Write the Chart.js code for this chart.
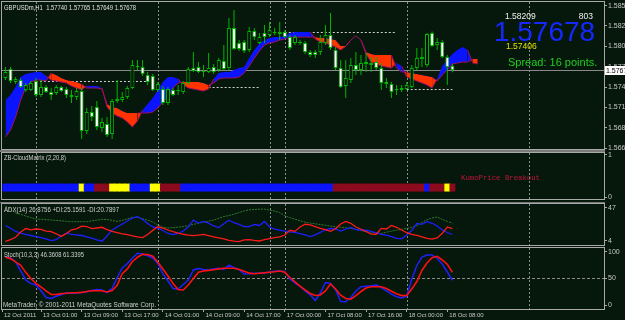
<!DOCTYPE html>
<html><head><meta charset="utf-8">
<script src="https://cdn.jsdelivr.net/npm/chart.js@4.4.0/dist/chart.umd.min.js"></script>
<style>
html,body{margin:0;padding:0;background:#06180c;overflow:hidden;width:625px;height:320px;}
canvas{position:absolute;left:0;}
</style></head><body>
<canvas id="cMain" width="625" height="150" style="top:0px"></canvas>
<canvas id="cCM" width="625" height="52" style="top:150px"></canvas>
<canvas id="cADX" width="625" height="45" style="top:202px"></canvas>
<canvas id="cST" width="625" height="73" style="top:247px"></canvas>
<script>
// ---------------- DATA ----------------
const symbolName = 'GBPUSDm,H1';
const openP = [1.57572,1.57695,1.57517,1.57544,1.57408,1.57408,1.57531,1.57339,1.57449,1.57380,
1.57367,1.57449,1.57421,1.57339,1.57312,1.57394,1.56847,1.57107,1.57175,1.56888,
1.56943,1.56806,1.57285,1.57271,1.57312,1.57435,1.57736,1.57722,1.57613,1.57599,
1.57408,1.57421,1.57230,1.57408,1.57408,1.57380,1.57503,1.57708,1.57722,1.57667,
1.57654,1.57722,1.57681,1.57804,1.57708,1.58255,1.58050,1.58064,1.57954,1.58214,
1.58050,1.58187,1.58159,1.58200,1.58200,1.58200,1.58132,1.58050,1.58064,1.58050,
1.57927,1.57927,1.57927,1.58050,1.58159,1.57954,1.57708,1.57462,1.57544,1.57749,
1.57681,1.57790,1.57777,1.57790,1.57708,1.57517,1.57490,1.57421,1.57435,1.57421,
1.57449,1.57708,1.57831,1.57749,1.58187,1.58023,1.58064,1.57859,1.57740];
const highP = [1.57722,1.57722,1.57585,1.57572,1.57503,1.57531,1.57572,1.57544,1.57476,1.57435,
1.57476,1.57462,1.57449,1.57408,1.57435,1.57435,1.57162,1.57189,1.57257,1.57025,
1.57039,1.57285,1.57544,1.57380,1.57462,1.57818,1.57818,1.57818,1.57654,1.57626,
1.57517,1.57462,1.57449,1.57435,1.57476,1.57531,1.57722,1.57927,1.57790,1.57749,
1.57913,1.57763,1.57845,1.58023,1.58392,1.58501,1.58091,1.58091,1.58269,1.58255,
1.58187,1.58296,1.58337,1.58255,1.58337,1.58228,1.58159,1.58159,1.58091,1.58077,
1.57954,1.57954,1.58159,1.58296,1.58460,1.57995,1.57818,1.57818,1.57845,1.57927,
1.57886,1.57913,1.57859,1.57859,1.57777,1.57572,1.57517,1.57476,1.57476,1.57517,
1.57749,1.57982,1.57982,1.58187,1.58209,1.58118,1.58091,1.57886,1.57765];
const lowP = [1.57544,1.57503,1.57490,1.57435,1.57380,1.57394,1.57312,1.57312,1.57367,1.57271,
1.57339,1.57380,1.57298,1.57230,1.57271,1.56738,1.56806,1.56984,1.56861,1.56833,
1.56765,1.56738,1.57230,1.57244,1.57285,1.57421,1.57681,1.57599,1.57476,1.57394,
1.57380,1.57203,1.57203,1.57326,1.57339,1.57353,1.57476,1.57654,1.57640,1.57585,
1.57640,1.57626,1.57654,1.57681,1.57681,1.57954,1.57941,1.57913,1.57927,1.58091,
1.58036,1.58050,1.58132,1.58159,1.58091,1.58118,1.57954,1.58023,1.58023,1.57900,
1.57859,1.57845,1.57886,1.58023,1.57954,1.57681,1.57435,1.57298,1.57503,1.57613,
1.57613,1.57654,1.57654,1.57681,1.57408,1.57435,1.57298,1.57339,1.57380,1.57406,
1.57435,1.57681,1.57722,1.57722,1.57995,1.57954,1.57845,1.57476,1.57649];
const closeP = [1.57654,1.57531,1.57558,1.57449,1.57476,1.57503,1.57339,1.57449,1.57380,1.57339,
1.57449,1.57394,1.57339,1.57312,1.57394,1.56847,1.57107,1.57039,1.56902,1.56970,
1.56792,1.57257,1.57257,1.57312,1.57435,1.57749,1.57722,1.57626,1.57517,1.57408,
1.57490,1.57230,1.57421,1.57339,1.57394,1.57503,1.57695,1.57667,1.57654,1.57654,
1.57708,1.57654,1.57818,1.57695,1.58255,1.57968,1.57968,1.57941,1.58214,1.58132,
1.58132,1.58132,1.58228,1.58187,1.58173,1.58132,1.57982,1.58132,1.58050,1.57927,
1.57886,1.57886,1.58064,1.58159,1.57982,1.57708,1.57449,1.57572,1.57749,1.57681,
1.57777,1.57763,1.57749,1.57708,1.57503,1.57490,1.57380,1.57408,1.57408,1.57476,
1.57708,1.57845,1.57859,1.58173,1.58009,1.58064,1.57859,1.57722,1.57678];
// Kumo spans (extend 5 bars into the future)
const spanA = [1.57271,1.57339,1.57449,1.57585,1.57626,1.57640,1.57654,1.57654,1.57599,1.57544,
1.57531,1.57517,1.57503,1.57462,1.57435,1.57408,1.57462,1.57462,1.57462,1.57435,
1.57175,1.57093,1.57052,1.57025,1.56970,1.56902,1.56984,1.57134,1.57216,1.57298,
1.57408,1.57517,1.57585,1.57585,1.57558,1.57476,1.57435,1.57421,1.57408,1.57394,
1.57421,1.57558,1.57640,1.57654,1.57654,1.57681,1.57708,1.57722,1.57845,1.57954,
1.58036,1.58091,1.58118,1.58132,1.58132,1.58146,1.58187,1.58200,1.58200,1.58200,
1.58200,1.58105,1.58064,1.58050,1.58023,1.57995,1.57954,1.58005,1.58091,1.58146,
1.58091,1.57900,1.57790,1.57763,1.57736,1.57722,1.57708,1.57777,1.57736,1.57585,
1.57558,1.57531,1.57503,1.57476,1.57435,1.57558,1.57736,1.57818,1.57900,1.57954,
1.57995,1.57954,1.57777,1.57763];
const spanB = [1.56765,1.56861,1.57039,1.57271,1.57449,1.57517,1.57544,1.57544,1.57531,1.57640,
1.57613,1.57572,1.57544,1.57531,1.57517,1.57490,1.57435,1.57435,1.57435,1.57421,
1.57216,1.57175,1.57162,1.57121,1.57093,1.57093,1.57093,1.57093,1.57093,1.57107,
1.57162,1.57244,1.57312,1.57435,1.57503,1.57517,1.57517,1.57517,1.57517,1.57503,
1.57476,1.57503,1.57558,1.57572,1.57572,1.57572,1.57585,1.57640,1.57736,1.57845,
1.57941,1.58023,1.58050,1.58064,1.58091,1.58105,1.58132,1.58132,1.58132,1.58132,
1.58132,1.58132,1.58118,1.58118,1.58105,1.58091,1.58009,1.58009,1.58091,1.58146,
1.58091,1.57927,1.57900,1.57886,1.57886,1.57886,1.57886,1.57708,1.57654,1.57654,
1.57640,1.57626,1.57613,1.57599,1.57585,1.57531,1.57613,1.57681,1.57763,1.57777,
1.57790,1.57790,1.57831,1.57831];
// ZB-CloudMatrix state per bar: 0 = blue, 1 = yellow, 2 = dark red
const stripState = [0,0,0,0,0,0,0,0,0,0,0,0,0,0,0,1,0,0,2,2,2,1,1,1,1,0,0,0,0,1,1,2,2,2,2,
0,0,0,0,0,0,0,0,0,0,0,0,0,0,0,0,0,0,0,0,0,0,0,0,0,0,0,0,0,0,
2,2,2,2,2,2,2,2,2,2,2,2,2,2,2,2,2,2,0,2,2,2,1,2];
const adxMain = [49.2,45.3,40.2,38.5,36.3,34.2,32.4,32.0,31.6,31.1,30.6,30.1,29.4,28.9,28.9,28.9,28.9,30.0,30.9,31.9,
31.8,30.6,29.4,30.6,32.5,34.6,34.6,32.8,30.9,28.7,24.7,21.8,20.7,21.3,22.0,22.5,24.0,25.4,27.0,28.4,
29.8,30.9,33.4,35.5,36.8,38.7,40.8,42.9,44.3,44.7,45.1,45.1,43.9,42.7,40.7,36.7,34.2,32.2,30.1,28.3,
27.2,26.2,25.2,24.3,23.2,22.3,21.7,21.0,20.3,18.9,17.4,16.0,15.4,14.6,13.9,15.4,16.7,18.0,19.0,20.3,
21.6,23.9,28.0,31.4,33.7,35.0,31.9,29.3,27.2];
const plusDI = [24.0,20.4,16.3,14.3,12.4,11.1,9.6,8.3,6.8,4.6,5.9,10.5,14.1,12.5,12.0,11.1,9.4,7.6,5.5,3.7,
10.5,18.2,22.1,26.0,29.8,33.7,35.4,31.8,26.6,22.1,20.8,17.6,13.7,12.3,13.7,16.9,22.1,31.1,27.2,29.2,
27.0,23.4,21.4,26.2,30.9,27.6,25.4,22.6,22.7,25.3,24.0,29.2,22.1,19.4,18.1,16.7,15.8,15.2,13.6,11.9,
9.8,12.0,15.2,18.5,20.1,19.6,16.9,19.5,21.4,18.6,18.2,17.9,16.4,14.5,12.5,11.5,9.7,7.5,6.8,11.7,
17.6,26.7,25.6,28.9,26.9,23.4,18.2,15.0,12.4];
const minusDI = [3.6,5.9,8.8,15.6,20.1,18.5,19.5,18.9,16.8,16.1,13.3,9.9,13.7,18.5,19.6,23.1,22.7,19.9,20.8,21.7,
18.7,16.3,14.7,13.2,12.3,10.5,9.3,8.4,12.4,17.7,22.3,20.5,18.2,16.1,14.3,12.7,11.7,11.0,11.7,12.5,
11.0,9.3,8.0,6.6,4.9,3.9,3.1,5.4,5.8,4.8,4.0,5.8,7.1,8.3,9.2,11.7,17.8,16.4,22.1,25.6,
24.7,22.5,20.4,18.6,16.5,19.8,26.0,29.3,26.9,22.1,19.2,16.3,13.0,12.7,20.3,19.5,24.0,21.7,18.2,14.7,
12.7,11.2,9.4,7.5,6.5,7.9,13.9,22.1,20.1];
const stochMain = [90.2,88.2,81.0,63.8,46.9,40.1,37.5,26.6,14.1,12.2,16.5,19.1,22.9,21.9,22.5,23.3,24.8,27.0,29.1,28.1,
23.1,31.5,51.6,69.4,77.9,88.2,97.0,95.7,92.3,88.2,77.9,58.2,45.0,31.0,30.0,38.5,46.9,65.7,68.5,66.6,
66.0,67.5,68.7,66.6,74.7,70.0,66.6,58.2,58.5,59.5,59.5,60.0,61.9,63.4,64.2,62.5,48.8,41.3,34.7,26.3,
19.1,8.4,22.5,42.2,40.3,28.7,6.6,6.2,14.1,26.3,34.3,35.3,36.0,37.5,32.8,26.6,20.3,15.4,13.1,16.5,
48.8,74.1,90.0,93.8,93.8,87.2,76.9,61.9,46.4];
const stochSignal = [89.5,87.0,81.0,74.5,61.2,49.7,40.5,33.8,26.3,19.9,19.7,21.4,22.1,23.1,23.1,23.6,25.3,26.8,26.8,26.8,
24.4,27.2,37.0,58.7,67.7,81.6,89.5,95.1,94.6,91.4,80.3,67.5,54.4,40.3,29.1,28.1,37.5,49.7,61.5,63.8,
64.9,66.2,67.7,68.8,68.8,68.8,66.6,63.4,59.7,58.7,59.5,60.4,61.5,62.5,63.8,61.3,51.6,43.5,35.6,28.5,
21.6,17.8,18.8,26.3,39.4,30.0,18.4,12.2,10.9,17.4,25.3,31.9,34.3,34.3,34.3,30.8,25.7,21.0,17.6,17.8,
30.0,44.1,64.7,78.8,88.7,91.4,84.4,76.4,61.3];
const priceTicks = [1.58560,1.58285,1.58005,1.57725,1.57445,1.57170,1.56890,1.56610];
const cmTicks = [0,1];
const adxTicks = [4,47];
const stochTicks = [0,50,100];
const stochLevels = [50];
const firstDateLabel = '12 Oct 2011';
const xTickIdx = [7,15,23,31,39,47,55,63,71,79,87];
const xTickLabels = ['13 Oct 01:00','13 Oct 09:00','13 Oct 17:00','14 Oct 01:00','14 Oct 09:00','14 Oct 17:00',
  '17 Oct 00:00','17 Oct 08:00','17 Oct 16:00','18 Oct 00:00','18 Oct 08:00'];
const separatorIdx = [6,30,52,55,79,103];
const dayOpenStart = [6,40,55,79];
const dayOpenEnd = [28,50,77,88];
const dayOpenPrice = [1.57531,1.57453,1.58200,1.57421];
const counterText = '803';
const spreadText = 'Spread: 16 points.';
const cmTitle = 'ZB-CloudMatrix (2,20,8)';
const cmSignal = 'KumoPrice Breakout';
const adxTitle = 'ADX(14) 26.8756 +DI:25.1591 -DI:20.7897';
const stochTitle = 'Stoch(10,3,3) 46.3608 61.3395';
const copyright = 'MetaTrader, \u00a9 2001-2011 MetaQuotes Software Corp.';

// ---------------- STYLE ----------------
const BG = '#06180c';
const FRAME = '#a8a8a8';
const AXIS = '#c8c8c8';
const SEP = '#8c8c8c';
const FONT = '"Liberation Sans", Arial, sans-serif';
const MONO = '"Liberation Mono", "DejaVu Sans Mono", monospace';
const CLOUD_BLUE = '#0a14ff';
const CLOUD_RED = '#ff3300';
const EDGE = '#9a1060';
const CANDLE = '#00b400';
const STRIP_COLORS = ['#0a14ff','#ffff00','#8b0a1e'];
const X_MIN = -0.68, X_MAX = 117.85;
const last = closeP.length - 1;

function txt(ctx, s, x, y, font, color, maxW, align) {
  ctx.save();
  ctx.font = font; ctx.fillStyle = color; ctx.textBaseline = 'alphabetic';
  ctx.textAlign = align || 'left';
  if (maxW) ctx.fillText(s, x, y, maxW); else ctx.fillText(s, x, y);
  ctx.restore();
}

function panelPlugin(extra) {
  return {
    id: 'panel',
    beforeDraw(chart) {
      const {ctx, width, height, chartArea: a} = chart;
      ctx.save();
      ctx.fillStyle = BG; ctx.fillRect(0, 0, width, height);
      if (extra.bandTop) { ctx.fillStyle = '#7a7a7a'; ctx.fillRect(0, 0, a.right + 1, a.top - 1); }
      ctx.restore();
    },
    beforeDatasetsDraw(chart) {
      const {ctx, chartArea: a, scales: {x}} = chart;
      ctx.save();
      ctx.beginPath(); ctx.rect(a.left, a.top, a.right - a.left, a.bottom - a.top); ctx.clip();
      ctx.strokeStyle = SEP; ctx.lineWidth = 1; ctx.setLineDash([2, 2]);
      separatorIdx.forEach(v => {
        const px = Math.round(x.getPixelForValue(v)) + 0.5;
        ctx.beginPath(); ctx.moveTo(px, a.top); ctx.lineTo(px, a.bottom); ctx.stroke();
      });
      ctx.restore();
      if (extra.behind) extra.behind(chart);
    },
    afterDraw(chart) {
      const {ctx, chartArea: a} = chart;
      ctx.save();
      ctx.strokeStyle = FRAME; ctx.lineWidth = 1;
      ctx.strokeRect(a.left - 0.5, a.top - 0.5, a.right - a.left + 1, a.bottom - a.top + 1);
      ctx.restore();
      if (extra.front) extra.front(chart);
    }
  };
}

function yAxis(min, max, vals, fmt) {
  return {
    type: 'linear', position: 'right', min: min, max: max,
    afterBuildTicks: s => { s.ticks = vals.map(v => ({value: v})); },
    afterFit: s => { s.width = 21; s.paddingTop = 0; s.paddingBottom = 0; },
    grid: {drawOnChartArea: false, drawTicks: true, tickLength: 3, color: FRAME, lineWidth: 1},
    border: {display: false},
    ticks: {color: AXIS, font: {family: FONT, size: 7}, padding: 1, autoSkip: false,
      crossAlign: 'near', callback: v => fmt(v)}
  };
}
function xHidden() {
  return {type: 'linear', min: X_MIN, max: X_MAX, offset: false, display: false};
}
const baseOpts = {
  responsive: false, maintainAspectRatio: false, animation: false, devicePixelRatio: 1, events: [],
  plugins: {legend: {display: false}, tooltip: {enabled: false}}
};
const pts = arr => arr.map((v, i) => ({x: i, y: v}));

// ---------------- MAIN PRICE CHART ----------------
new Chart(document.getElementById('cMain'), {
  type: 'line',
  data: {datasets: [
    {type: 'line', data: pts(spanA), borderWidth: 1, borderColor: 'rgba(0,0,0,0)', pointRadius: 0, tension: 0,
     fill: {target: 1, above: CLOUD_BLUE, below: CLOUD_RED}, order: 5,
     segment: {borderColor: c => (spanA[c.p0DataIndex] < spanB[c.p0DataIndex] || spanA[c.p1DataIndex] < spanB[c.p1DataIndex]) ? EDGE : 'rgba(0,0,0,0)'}},
    {type: 'line', data: pts(spanB), borderWidth: 1, borderColor: 'rgba(0,0,0,0)', pointRadius: 0, tension: 0,
     fill: false, order: 4,
     segment: {borderColor: c => (spanB[c.p0DataIndex] <= spanA[c.p0DataIndex] || spanB[c.p1DataIndex] <= spanA[c.p1DataIndex]) ? EDGE : 'rgba(0,0,0,0)'}},
    {type: 'bar', data: highP.map((h, i) => ({x: i, y: [lowP[i], h]})), backgroundColor: CANDLE,
     barThickness: 1, grouped: false, borderWidth: 0, inflateAmount: 0, order: 2},
    {type: 'bar', data: openP.map((o, i) => ({x: i, y: [o, closeP[i]]})),
     backgroundColor: openP.map((o, i) => closeP[i] < o ? '#ffffff' : BG),
     borderColor: CANDLE, borderWidth: 1, borderSkipped: false, barThickness: 4, grouped: false,
     minBarLength: 1, inflateAmount: 0, order: 1}
  ]},
  options: Object.assign({}, baseOpts, {
    layout: {padding: {left: 2, top: 2, bottom: 1, right: 0}},
    scales: {
      x: xHidden(),
      y: yAxis(1.56601, 1.58611, priceTicks, v => v.toFixed(5))
    }
  }),
  plugins: [panelPlugin({
    behind(chart) {
      const {ctx, chartArea: a, scales: {x, y}} = chart;
      ctx.save();
      ctx.beginPath(); ctx.rect(a.left, a.top, a.right - a.left, a.bottom - a.top); ctx.clip();
      const py = Math.round(y.getPixelForValue(closeP[last])) + 0.5;
      ctx.strokeStyle = '#8a8a8a'; ctx.lineWidth = 1;
      ctx.beginPath(); ctx.moveTo(a.left, py); ctx.lineTo(a.right, py); ctx.stroke();
      ctx.strokeStyle = '#d0d0d0'; ctx.setLineDash([2, 2]);
      dayOpenPrice.forEach((p, k) => {
        const yy = Math.round(y.getPixelForValue(p)) + 0.5;
        ctx.beginPath(); ctx.moveTo(x.getPixelForValue(dayOpenStart[k]), yy);
        ctx.lineTo(x.getPixelForValue(dayOpenEnd[k]), yy); ctx.stroke();
      });
      ctx.restore();
    },
    front(chart) {
      const {ctx, chartArea: a, scales: {y}} = chart;
      const title = symbolName + '  ' + [openP[last], highP[last], lowP[last], closeP[last]].map(v => v.toFixed(5)).join(' ');
      txt(ctx, title, 4, 9.5, '7px ' + FONT, '#e0e0e0', 132);
      const dayHigh = Math.max.apply(null, highP.slice(79));
      const dayLow = Math.min.apply(null, lowP.slice(79));
      txt(ctx, dayHigh.toFixed(5), 505, 18.5, '8.5px ' + FONT, '#f0f0f0', 31);
      txt(ctx, counterText, 593, 18.5, '8.5px ' + FONT, '#f0f0f0', 0, 'right');
      txt(ctx, closeP[last].toFixed(5), 494, 40.7, '28px ' + FONT, '#1428ff', 101);
      txt(ctx, dayLow.toFixed(5), 506, 48.8, '8.5px ' + FONT, '#e0e000', 31);
      txt(ctx, spreadText, 508, 65.7, '11px ' + FONT, '#22cc22', 90);
      // current price marker on the axis
      const py = Math.round(y.getPixelForValue(closeP[last]));
      ctx.save();
      ctx.fillStyle = '#ffffff'; ctx.fillRect(a.right + 1, py - 4, 22, 9);
      ctx.restore();
      txt(ctx, closeP[last].toFixed(5), a.right + 2, py + 3, '7px ' + FONT, '#000000');
    }
  })]
});

// ---------------- ZB-CloudMatrix ----------------
new Chart(document.getElementById('cCM'), {
  type: 'bar',
  data: {datasets: [{
    data: stripState.map((s, i) => ({x: i, y: [0.14, 0.31]})),
    backgroundColor: stripState.map(s => STRIP_COLORS[s]),
    barPercentage: 1, categoryPercentage: 1, borderWidth: 0, inflateAmount: 0.4
  }]},
  options: Object.assign({}, baseOpts, {
    layout: {padding: {left: 2, top: 3, bottom: 3, right: 0}},
    scales: {x: xHidden(), y: yAxis(-0.0476, 1.0476, cmTicks, v => String(v))}
  }),
  plugins: [panelPlugin({
    bandTop: true,
    front(chart) {
      const ctx = chart.ctx;
      txt(ctx, cmTitle, 4, 9.5, '7px ' + FONT, '#d0d0d0', 62);
      txt(ctx, cmSignal, 461, 29.5, '7.5px ' + MONO, '#c0143c', 79);
    }
  })]
});

// ---------------- ADX ----------------
new Chart(document.getElementById('cADX'), {
  type: 'line',
  data: {datasets: [
    {data: pts(adxMain), borderColor: '#2f7a2f', borderWidth: 1, borderDash: [2, 1], pointRadius: 0, tension: 0, order: 3},
    {data: pts(plusDI), borderColor: '#1e1eff', borderWidth: 1.3, pointRadius: 0, tension: 0, order: 2},
    {data: pts(minusDI), borderColor: '#ff1a1a', borderWidth: 1.3, pointRadius: 0, tension: 0, order: 1}
  ]},
  options: Object.assign({}, baseOpts, {
    layout: {padding: {left: 2, top: 2, bottom: 2, right: 0}},
    scales: {x: xHidden(), y: yAxis(-1.17, 51.78, adxTicks, v => String(v))}
  }),
  plugins: [panelPlugin({
    bandTop: true,
    front(chart) { txt(chart.ctx, adxTitle, 4, 9.5, '7px ' + FONT, '#d0d0d0', 115); }
  })]
});

// ---------------- Stochastic ----------------
new Chart(document.getElementById('cST'), {
  type: 'line',
  data: {datasets: [
    {data: pts(stochMain), borderColor: '#2020ff', borderWidth: 1.5, pointRadius: 0, tension: 0, order: 2},
    {data: pts(stochSignal), borderColor: '#ff1010', borderWidth: 1.6, pointRadius: 0, tension: 0, order: 1}
  ]},
  options: Object.assign({}, baseOpts, {
    layout: {padding: {left: 2, top: 1, bottom: 0, right: 0}},
    scales: {
      x: {
        type: 'linear', min: X_MIN, max: X_MAX, offset: false, position: 'bottom',
        afterBuildTicks: s => { s.ticks = [X_MIN].concat(xTickIdx).map(v => ({value: v})); },
        afterFit: s => { s.height = 11; s.paddingLeft = 0; s.paddingRight = 0; },
        grid: {drawOnChartArea: false, drawTicks: true, tickLength: 3, color: FRAME},
        border: {display: false},
        ticks: {color: AXIS, font: {family: FONT, size: 6}, padding: 0, align: 'start', labelOffset: 2,
          maxRotation: 0, minRotation: 0, autoSkip: false,
          callback: (v, i) => i === 0 ? firstDateLabel : xTickLabels[i - 1]}
      },
      y: yAxis(-7.5, 106.9, stochTicks, v => String(v))
    }
  }),
  plugins: [panelPlugin({
    bandTop: true,
    behind(chart) {
      const {ctx, chartArea: a, scales: {y}} = chart;
      ctx.save();
      ctx.strokeStyle = SEP; ctx.lineWidth = 1; ctx.setLineDash([3, 2]);
      stochLevels.forEach(l => {
        const py = Math.round(y.getPixelForValue(l)) + 0.5;
        ctx.beginPath(); ctx.moveTo(a.left, py); ctx.lineTo(a.right, py); ctx.stroke();
      });
      ctx.restore();
    },
    front(chart) {
      txt(chart.ctx, stochTitle, 4, 9.5, '7px ' + FONT, '#d0d0d0', 80);
      txt(chart.ctx, copyright, 3, 60.2, '7px ' + FONT, '#d0d0d0', 153);
    }
  })]
});
</script>
</body></html>
